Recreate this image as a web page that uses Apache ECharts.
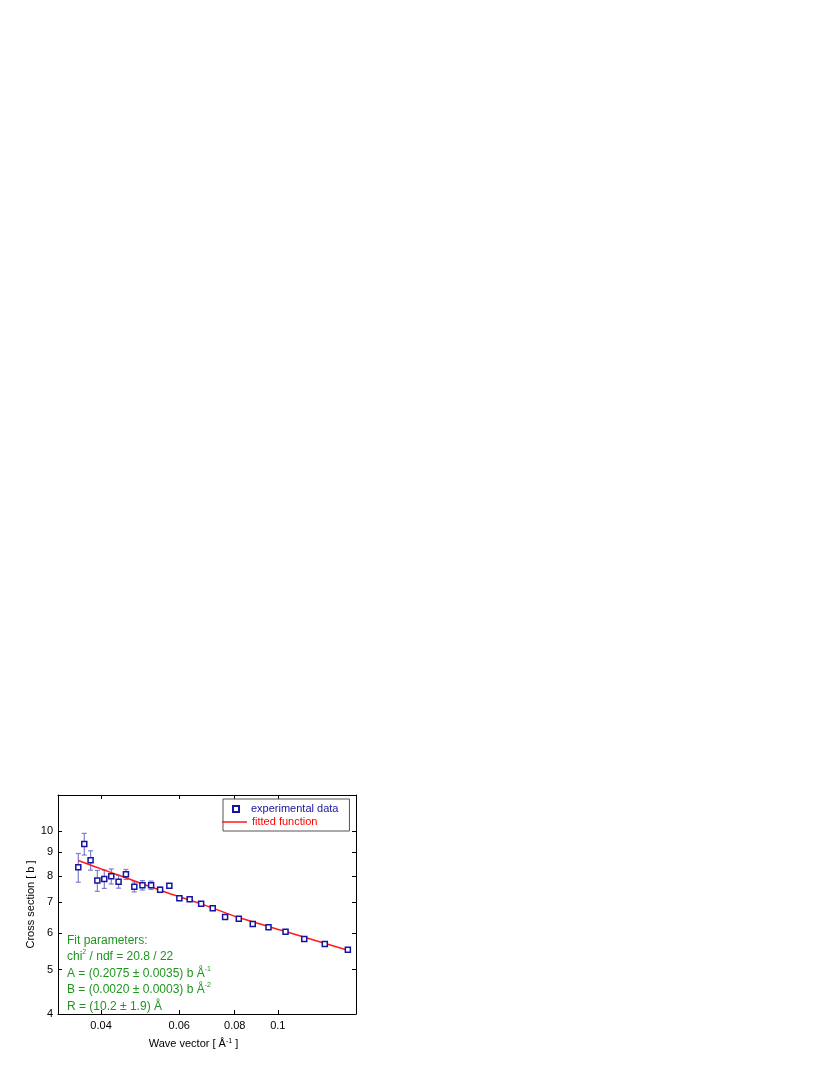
<!DOCTYPE html>
<html>
<head>
<meta charset="utf-8">
<script src="https://cdn.jsdelivr.net/npm/echarts@6/dist/echarts.min.js"></script>
<style>
html,body{margin:0;padding:0;background:#fff;}
#chart{width:830px;height:1075px;}
</style>
</head>
<body>
<div id="chart"></div>
<script>
// ---- data ----
const qData = [0.03555, 0.03667, 0.03789, 0.03924, 0.04068, 0.04218, 0.04381, 0.04551, 0.04753, 0.04957, 0.05186, 0.05433, 0.05700, 0.06004, 0.06333, 0.06721, 0.07137, 0.07610, 0.08170, 0.08784, 0.09530, 0.1041, 0.1147, 0.1276, 0.1438];
const sigmaData = [8.35, 9.39, 8.65, 7.81, 7.87, 7.98, 7.77, 8.06, 7.57, 7.63, 7.63, 7.46, 7.61, 7.15, 7.11, 6.95, 6.80, 6.51, 6.45, 6.28, 6.18, 6.04, 5.83, 5.68, 5.52];
const sigmaErr = [0.60, 0.51, 0.42, 0.41, 0.36, 0.30, 0.25, 0.20, 0.19, 0.18, 0.16, 0.10, 0.08, 0.06, 0.06, 0.05, 0.05, 0.05, 0.04, 0.04, 0.04, 0.04, 0.04, 0.04, 0.04];
const fitQ = [0.03555, 0.04175, 0.04881, 0.05700, 0.06721, 0.0817, 0.1041, 0.1438];
const fitSigma = [8.64, 8.16, 7.73, 7.32, 6.95, 6.49, 6.05, 5.51];
const xTicks = [0.04, 0.06, 0.08, 0.1];
const xTickLabels = ['0.04', '0.06', '0.08', '0.1'];
const yTicks = [4, 5, 6, 7, 8, 9, 10];
const yTickLabels = ['4', '5', '6', '7', '8', '9', '10'];
const xRange = [0.032, 0.15];
const yRange = [4, 12];
const fitText = ['Fit parameters:', 'chi{sup|2} / ndf = 20.8 / 22', 'A = (0.2075 \u00b1 0.0035) b \u00c5{sup|-1}', 'B = (0.0020 \u00b1 0.0003) b \u00c5{sup|-2}', 'R = (10.2 \u00b1 1.9) \u00c5'];

// ---- build ----
const L = Math.log10;
const FONT = '"Liberation Sans", Arial, sans-serif';
const GREEN = '#1f951f';
const NAVY = '#1414a0';
const RED = '#ff1a1a';

function labelFor(ticks, labels) {
  return function (v) {
    for (let i = 0; i < ticks.length; i++) if (Math.abs(L(ticks[i]) - v) < 1e-6) return labels[i];
    return '';
  };
}
const xTickL = xTicks.map(L), yTickL = yTicks.map(L);

const scatterPts = qData.map((q, i) => [L(q), L(sigmaData[i])]);
const errPts = qData.map((q, i) => [L(q), L(sigmaData[i] - sigmaErr[i]), L(sigmaData[i] + sigmaErr[i])]);
const fitPts = fitQ.map((q, i) => [L(q), L(fitSigma[i])]);

const axisCommon = {
  type: 'value',
  axisLine: { show: true, onZero: false, lineStyle: { color: '#000', width: 1 } },
  splitLine: { show: false },
};

const chart = echarts.init(document.getElementById('chart'), null, { renderer: 'canvas' });
chart.setOption({
  animation: false,
  backgroundColor: '#fff',
  textStyle: { fontFamily: FONT },
  grid: { left: 58, right: 474, top: 795, bottom: 61, containLabel: false },
  title: {
    left: 67, top: 932, padding: 0,
    text: fitText.join('\n'),
    textStyle: {
      fontFamily: FONT, fontSize: 12, fontWeight: 'normal', color: GREEN, lineHeight: 16.6,
      rich: { sup: { fontFamily: FONT, fontSize: 7, color: GREEN, verticalAlign: 'top', lineHeight: 10 } }
    }
  },
  legend: [
    {
      left: 223, top: 799, orient: 'vertical', selectedMode: false, z: 5,
      padding: [4, 11, 16, 9], itemWidth: 6, itemHeight: 6,
      backgroundColor: '#fff', borderColor: '#555', borderWidth: 1,
      textStyle: { fontFamily: FONT, fontSize: 11, lineHeight: 12, padding: [0, 0, 0, 7] },
      data: [{ name: 'experimental data', textStyle: { color: NAVY } }]
    },
    {
      left: 222, top: 816, orient: 'vertical', selectedMode: false, z: 6,
      padding: 0, itemWidth: 25, itemHeight: 1.5,
      textStyle: { fontFamily: FONT, fontSize: 11, lineHeight: 12 },
      data: [{ name: 'fitted function', icon: 'rect', itemStyle: { color: RED }, textStyle: { color: '#ff0000' } }]
    }
  ],
  xAxis: [
    Object.assign({}, axisCommon, {
      position: 'bottom', min: L(xRange[0]), max: L(xRange[1]),
      axisTick: { show: true, inside: true, length: 4, customValues: xTickL, lineStyle: { color: '#000' } },
      axisLabel: { show: true, customValues: xTickL, formatter: labelFor(xTicks, xTickLabels), color: '#000', fontSize: 11, fontFamily: FONT, margin: 6 },
      name: 'Wave vector [ \u00c5{sup|-1} ]', nameLocation: 'middle', nameGap: 24,
      nameTextStyle: { color: '#000', fontSize: 11, fontFamily: FONT, padding: [0, 27, 0, 0],
        rich: { sup: { fontSize: 7, fontFamily: FONT, color: '#000', verticalAlign: 'top', lineHeight: 9 } } }
    }),
    Object.assign({}, axisCommon, {
      position: 'top', min: L(xRange[0]), max: L(xRange[1]),
      axisTick: { show: true, inside: true, length: 4, customValues: xTickL, lineStyle: { color: '#000' } },
      axisLabel: { show: false }
    })
  ],
  yAxis: [
    Object.assign({}, axisCommon, {
      position: 'left', min: L(yRange[0]), max: L(yRange[1]),
      axisTick: { show: true, inside: true, length: 4, customValues: yTickL, lineStyle: { color: '#000' } },
      axisLabel: { show: true, customValues: yTickL, formatter: labelFor(yTicks, yTickLabels), color: '#000', fontSize: 11, fontFamily: FONT, margin: 5 },
      name: 'Cross section [ b ]', nameLocation: 'middle', nameGap: 22,
      nameTextStyle: { color: '#000', fontSize: 11, fontFamily: FONT }
    }),
    Object.assign({}, axisCommon, {
      position: 'right', min: L(yRange[0]), max: L(yRange[1]),
      axisTick: { show: true, inside: true, length: 4, customValues: yTickL, lineStyle: { color: '#000' } },
      axisLabel: { show: false }
    })
  ],
  series: [
    {
      name: 'error bars', type: 'custom', xAxisIndex: 0, yAxisIndex: 0, z: 2,
      data: errPts,
      renderItem: function (params, api) {
        const x = api.value(0);
        const p1 = api.coord([x, api.value(1)]);
        const p2 = api.coord([x, api.value(2)]);
        const hw = 2.5;
        const st = { stroke: '#7d7dd2', lineWidth: 1.2 };
        return {
          type: 'group',
          children: [
            { type: 'line', shape: { x1: p1[0], y1: p1[1], x2: p2[0], y2: p2[1] }, style: st },
            { type: 'line', shape: { x1: p1[0] - hw, y1: p1[1], x2: p1[0] + hw, y2: p1[1] }, style: st },
            { type: 'line', shape: { x1: p2[0] - hw, y1: p2[1], x2: p2[0] + hw, y2: p2[1] }, style: st }
          ]
        };
      }
    },
    {
      name: 'fitted function', type: 'line', xAxisIndex: 0, yAxisIndex: 0, z: 3,
      data: fitPts, showSymbol: false, symbol: 'none', smooth: 0.2,
      lineStyle: { color: RED, width: 1.5 }, itemStyle: { color: RED }
    },
    {
      name: 'experimental data', type: 'scatter', xAxisIndex: 0, yAxisIndex: 0, z: 4,
      data: scatterPts, symbol: 'rect', symbolSize: 5,
      itemStyle: { color: '#fff', borderColor: NAVY, borderWidth: 1.5, opacity: 1 }
    }
  ]
});
</script>
</body>
</html>
